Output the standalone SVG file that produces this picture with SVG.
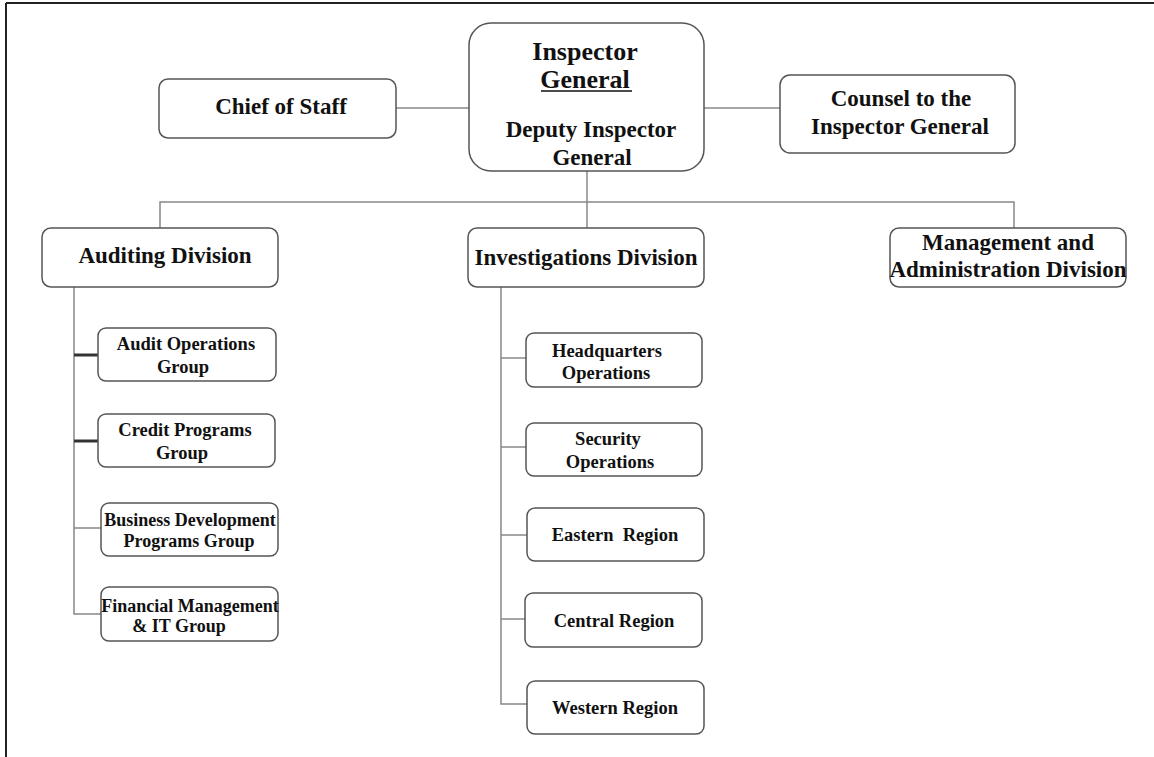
<svg xmlns="http://www.w3.org/2000/svg" width="1154" height="757" viewBox="0 0 1154 757">
<style>
.box{fill:#fff;stroke:#555;stroke-width:1.5}
.ln{stroke:#888;stroke-width:1.5;fill:none}
.thick{stroke:#333;stroke-width:3;fill:none}
text{font-family:"Liberation Serif","Times New Roman",serif;font-weight:bold;fill:#111;text-anchor:middle}
.t1{font-size:23px}
.t0{font-size:26px}
.t2{font-size:18.5px}
.t3{font-size:18px}
</style>
<rect x="0" y="0" width="1154" height="757" fill="#fff"/>
<line x1="6" y1="3" x2="1154" y2="3" stroke="#222" stroke-width="2"/>
<line x1="6" y1="3" x2="6" y2="757" stroke="#222" stroke-width="2"/>
<g id="connectors">
<line class="ln" x1="396" y1="108" x2="469" y2="108"/>
<line class="ln" x1="704" y1="108" x2="780" y2="108"/>
<line class="ln" x1="587" y1="171" x2="587" y2="228"/>
<polyline class="ln" points="160,228 160,202 1014,202 1014,228"/>
<polyline class="ln" points="74,287 74,614 101,614"/>
<line class="thick" x1="74" y1="355" x2="98" y2="355"/>
<line class="thick" x1="74" y1="441" x2="98" y2="441"/>
<line class="ln" x1="74" y1="528" x2="101" y2="528"/>
<polyline class="ln" points="501,287 501,704 527,704"/>
<line class="ln" x1="501" y1="358" x2="526" y2="358"/>
<line class="ln" x1="501" y1="447" x2="526" y2="447"/>
<line class="ln" x1="501" y1="535" x2="527" y2="535"/>
<line class="ln" x1="501" y1="619" x2="525" y2="619"/>
</g>
<g id="inspector-general">
<rect class="box" x="469" y="23" width="235" height="148" rx="22"/>
<text class="t0" x="585" y="60">Inspector</text>
<text class="t0" x="585" y="88">General</text>
<line x1="541" y1="91" x2="632" y2="91" stroke="#111" stroke-width="1.5"/>
<text class="t1" x="591" y="137">Deputy Inspector</text>
<text class="t1" x="592" y="165">General</text>
</g>
<g id="chief-of-staff">
<rect class="box" x="159" y="79" width="237" height="59" rx="9"/>
<text class="t1" x="281" y="114">Chief of Staff</text>
</g>
<g id="counsel">
<rect class="box" x="780" y="75" width="235" height="78" rx="10"/>
<text class="t1" x="901" y="106">Counsel to the</text>
<text class="t1" x="900" y="134">Inspector General</text>
</g>
<g id="auditing-division">
<rect class="box" x="42" y="228" width="236" height="59" rx="9"/>
<text class="t1" x="165" y="263">Auditing Division</text>
</g>
<g id="investigations-division">
<rect class="box" x="468" y="228" width="236" height="59" rx="9"/>
<text class="t1" x="586" y="265">Investigations Division</text>
</g>
<g id="management-division">
<rect class="box" x="890" y="228" width="236" height="59" rx="9"/>
<text class="t1" x="1008" y="250">Management and</text>
<text class="t1" x="1008" y="277">Administration Division</text>
</g>
<g id="audit-operations">
<rect class="box" x="98" y="328" width="178" height="53" rx="8"/>
<text class="t2" x="186" y="350">Audit Operations</text>
<text class="t2" x="183" y="373">Group</text>
</g>
<g id="credit-programs">
<rect class="box" x="98" y="414" width="177" height="53" rx="8"/>
<text class="t2" x="185" y="436">Credit Programs</text>
<text class="t2" x="182" y="459">Group</text>
</g>
<g id="business-development">
<rect class="box" x="101" y="503" width="177" height="53" rx="8"/>
<text class="t3" x="190" y="526">Business Development</text>
<text class="t3" x="189" y="547">Programs Group</text>
</g>
<g id="financial-management">
<rect class="box" x="101" y="587" width="177" height="54" rx="8"/>
<text class="t3" x="190" y="612">Financial Management</text>
<text class="t3" x="179" y="632">&amp; IT Group</text>
</g>
<g id="headquarters-operations">
<rect class="box" x="526" y="333" width="176" height="54" rx="8"/>
<text class="t2" x="607" y="357">Headquarters</text>
<text class="t2" x="606" y="379">Operations</text>
</g>
<g id="security-operations">
<rect class="box" x="526" y="423" width="176" height="53" rx="8"/>
<text class="t2" x="608" y="445">Security</text>
<text class="t2" x="610" y="468">Operations</text>
</g>
<g id="eastern-region">
<rect class="box" x="527" y="508" width="177" height="53" rx="8"/>
<text class="t2" x="615" y="541" xml:space="preserve">Eastern  Region</text>
</g>
<g id="central-region">
<rect class="box" x="525" y="593" width="177" height="54" rx="8"/>
<text class="t2" x="614" y="627">Central Region</text>
</g>
<g id="western-region">
<rect class="box" x="527" y="681" width="177" height="53" rx="8"/>
<text class="t2" x="615" y="714">Western Region</text>
</g>
</svg>
